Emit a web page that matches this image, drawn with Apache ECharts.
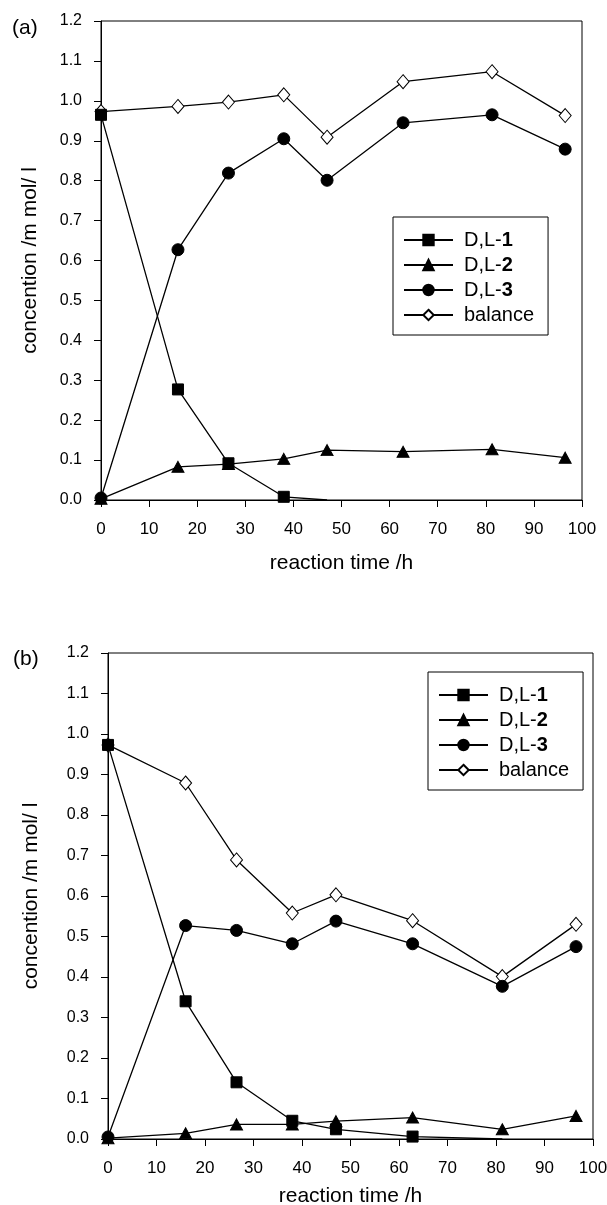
<!DOCTYPE html>
<html>
<head>
<meta charset="utf-8">
<script src="https://cdn.jsdelivr.net/npm/echarts@6/dist/echarts.min.js"></script>
<style>
  html, body { margin: 0; padding: 0; background: #fff; }
  #chart { width: 607px; height: 1205px; }
</style>
</head>
<body>
<div id="chart"></div>
<script>
  // reaction time (h) — same sampling in both panels
  var hours = [0, 16, 26.5, 38, 47, 62.8, 81.3, 96.5];
  var seriesNames = ['D,L-1', 'D,L-2', 'D,L-3', 'balance'];
  var yTicks = [0, 0.1, 0.2, 0.3, 0.4, 0.5, 0.6, 0.7, 0.8, 0.9, 1.0, 1.1, 1.2];
  var xTicks = [0, 10, 20, 30, 40, 50, 60, 70, 80, 90, 100];

  // panel (a)
  var aDL1 = [0.965, 0.277, 0.092, 0.008, 0, null, null, null];
  var aDL2 = [0.003, 0.083, 0.090, 0.103, 0.125, 0.121, 0.127, 0.106];
  var aDL3 = [0.005, 0.627, 0.819, 0.905, 0.801, 0.945, 0.965, 0.879];
  var aBal = [0.973, 0.986, 0.997, 1.015, 0.909, 1.048, 1.073, 0.963];

  // panel (b)
  var bDL1 = [0.973, 0.340, 0.140, 0.045, 0.024, 0.006, 0, null];
  var bDL2 = [0.002, 0.014, 0.036, 0.036, 0.044, 0.053, 0.024, 0.057];
  var bDL3 = [0.005, 0.527, 0.515, 0.482, 0.538, 0.482, 0.377, 0.475];
  var bBal = [0.973, 0.879, 0.689, 0.558, 0.603, 0.539, 0.401, 0.530];

  var FONT = '"Liberation Sans", Arial, sans-serif';

  var markers = {
    'D,L-1': { symbol: 'rect', size: 11, fill: '#000' },
    'D,L-2': { symbol: 'triangle', size: [12, 11], fill: '#000' },
    'D,L-3': { symbol: 'circle', size: 12, fill: '#000' },
    'balance': { symbol: 'diamond', size: [12, 14], fill: '#fff' }
  };

  function pairs(vals) {
    var out = [];
    for (var i = 0; i < hours.length; i++) {
      if (vals[i] === null) continue;
      // points sitting on the axis after the compound is used up carry no marker
      if (vals[i] === 0) out.push({ value: [hours[i], 0], symbolSize: 0 });
      else out.push([hours[i], vals[i]]);
    }
    return out;
  }

  function makeSeries(name, vals, idx) {
    var m = markers[name];
    return {
      name: name,
      type: 'line',
      xAxisIndex: idx,
      yAxisIndex: idx,
      data: pairs(vals),
      symbol: m.symbol,
      symbolSize: m.size,
      showAllSymbol: true,
      lineStyle: { color: '#000', width: 1.3 },
      itemStyle: { color: m.fill, borderColor: '#000', borderWidth: 1 },
      z: name === 'balance' ? 2 : 3,
      animation: false
    };
  }

  function xAxis(idx, gap) {
    return {
      type: 'value', gridIndex: idx, min: 0, max: 100, interval: 10,
      name: 'reaction time /h', nameLocation: 'middle', nameGap: gap,
      nameTextStyle: { fontFamily: FONT, fontSize: 21, color: '#000' },
      axisLine: { show: true, lineStyle: { color: '#000', width: 1 } },
      axisTick: { show: true, inside: false, length: 7, lineStyle: { color: '#000' } },
      axisLabel: { fontFamily: FONT, fontSize: 17, color: '#000', margin: 21,
        formatter: function (v) { return xTicks.indexOf(v) >= 0 ? String(v) : ''; } },
      splitLine: { show: false }
    };
  }

  function yAxis(idx, gap) {
    return {
      type: 'value', gridIndex: idx, min: 0, max: 1.2, interval: 0.1,
      name: 'concention /m mol/ l', nameLocation: 'middle', nameGap: gap,
      nameTextStyle: { fontFamily: FONT, fontSize: 21, color: '#000' },
      axisLine: { show: true, lineStyle: { color: '#000', width: 1 } },
      axisTick: { show: true, inside: false, length: 7, lineStyle: { color: '#000' } },
      axisLabel: { fontFamily: FONT, fontSize: 16, color: '#000', margin: 19,
        formatter: function (v) {
          var t = yTicks.filter(function (k) { return Math.abs(k - v) < 1e-6; });
          return t.length ? t[0].toFixed(1) : '';
        } },
      splitLine: { show: false }
    };
  }

  function legend(left, top) {
    return {
      data: seriesNames, orient: 'vertical', left: left, top: top,
      itemWidth: 49, itemHeight: 13, itemGap: 5,
      padding: [13, 14, 10, 10],
      borderColor: '#000', borderWidth: 1, backgroundColor: '#fff',
      selectedMode: false,
      textStyle: {
        fontFamily: FONT, fontSize: 20, color: '#000', padding: [0, 0, 0, 6],
        rich: {
          r: { fontFamily: FONT, fontSize: 20, color: '#000' },
          b: { fontFamily: FONT, fontSize: 20, color: '#000', fontWeight: 'bold' }
        }
      },
      formatter: function (name) {
        var m = name.match(/^(D,L-)(\d)$/);
        return m ? '{r|' + m[1] + '}{b|' + m[2] + '}' : '{r|' + name + '}';
      }
    };
  }

  var chart = echarts.init(document.getElementById('chart'), null, { renderer: 'canvas' });

  chart.setOption({
    backgroundColor: '#fff',
    animation: false,
    title: [
      { text: '(a)', left: 7, top: 13, textStyle: { fontFamily: FONT, fontSize: 21, fontWeight: 'normal', color: '#000' } },
      { text: '(b)', left: 8, top: 644, textStyle: { fontFamily: FONT, fontSize: 21, fontWeight: 'normal', color: '#000' } }
    ],
    grid: [
      { left: 101, top: 21, right: 25, bottom: 705, show: true, borderColor: '#000', borderWidth: 1, outerBoundsMode: 'none' },
      { left: 108, top: 653, right: 14, bottom: 66, show: true, borderColor: '#000', borderWidth: 1, outerBoundsMode: 'none' }
    ],
    xAxis: [xAxis(0, 53), xAxis(1, 47)],
    yAxis: [yAxis(0, 60), yAxis(1, 66)],
    legend: [legend(393, 217), legend(428, 672)],
    series: [
      makeSeries('balance', aBal, 0),
      makeSeries('D,L-2', aDL2, 0),
      makeSeries('D,L-1', aDL1, 0),
      makeSeries('D,L-3', aDL3, 0),
      makeSeries('balance', bBal, 1),
      makeSeries('D,L-2', bDL2, 1),
      makeSeries('D,L-1', bDL1, 1),
      makeSeries('D,L-3', bDL3, 1)
    ]
  });
</script>
</body>
</html>
